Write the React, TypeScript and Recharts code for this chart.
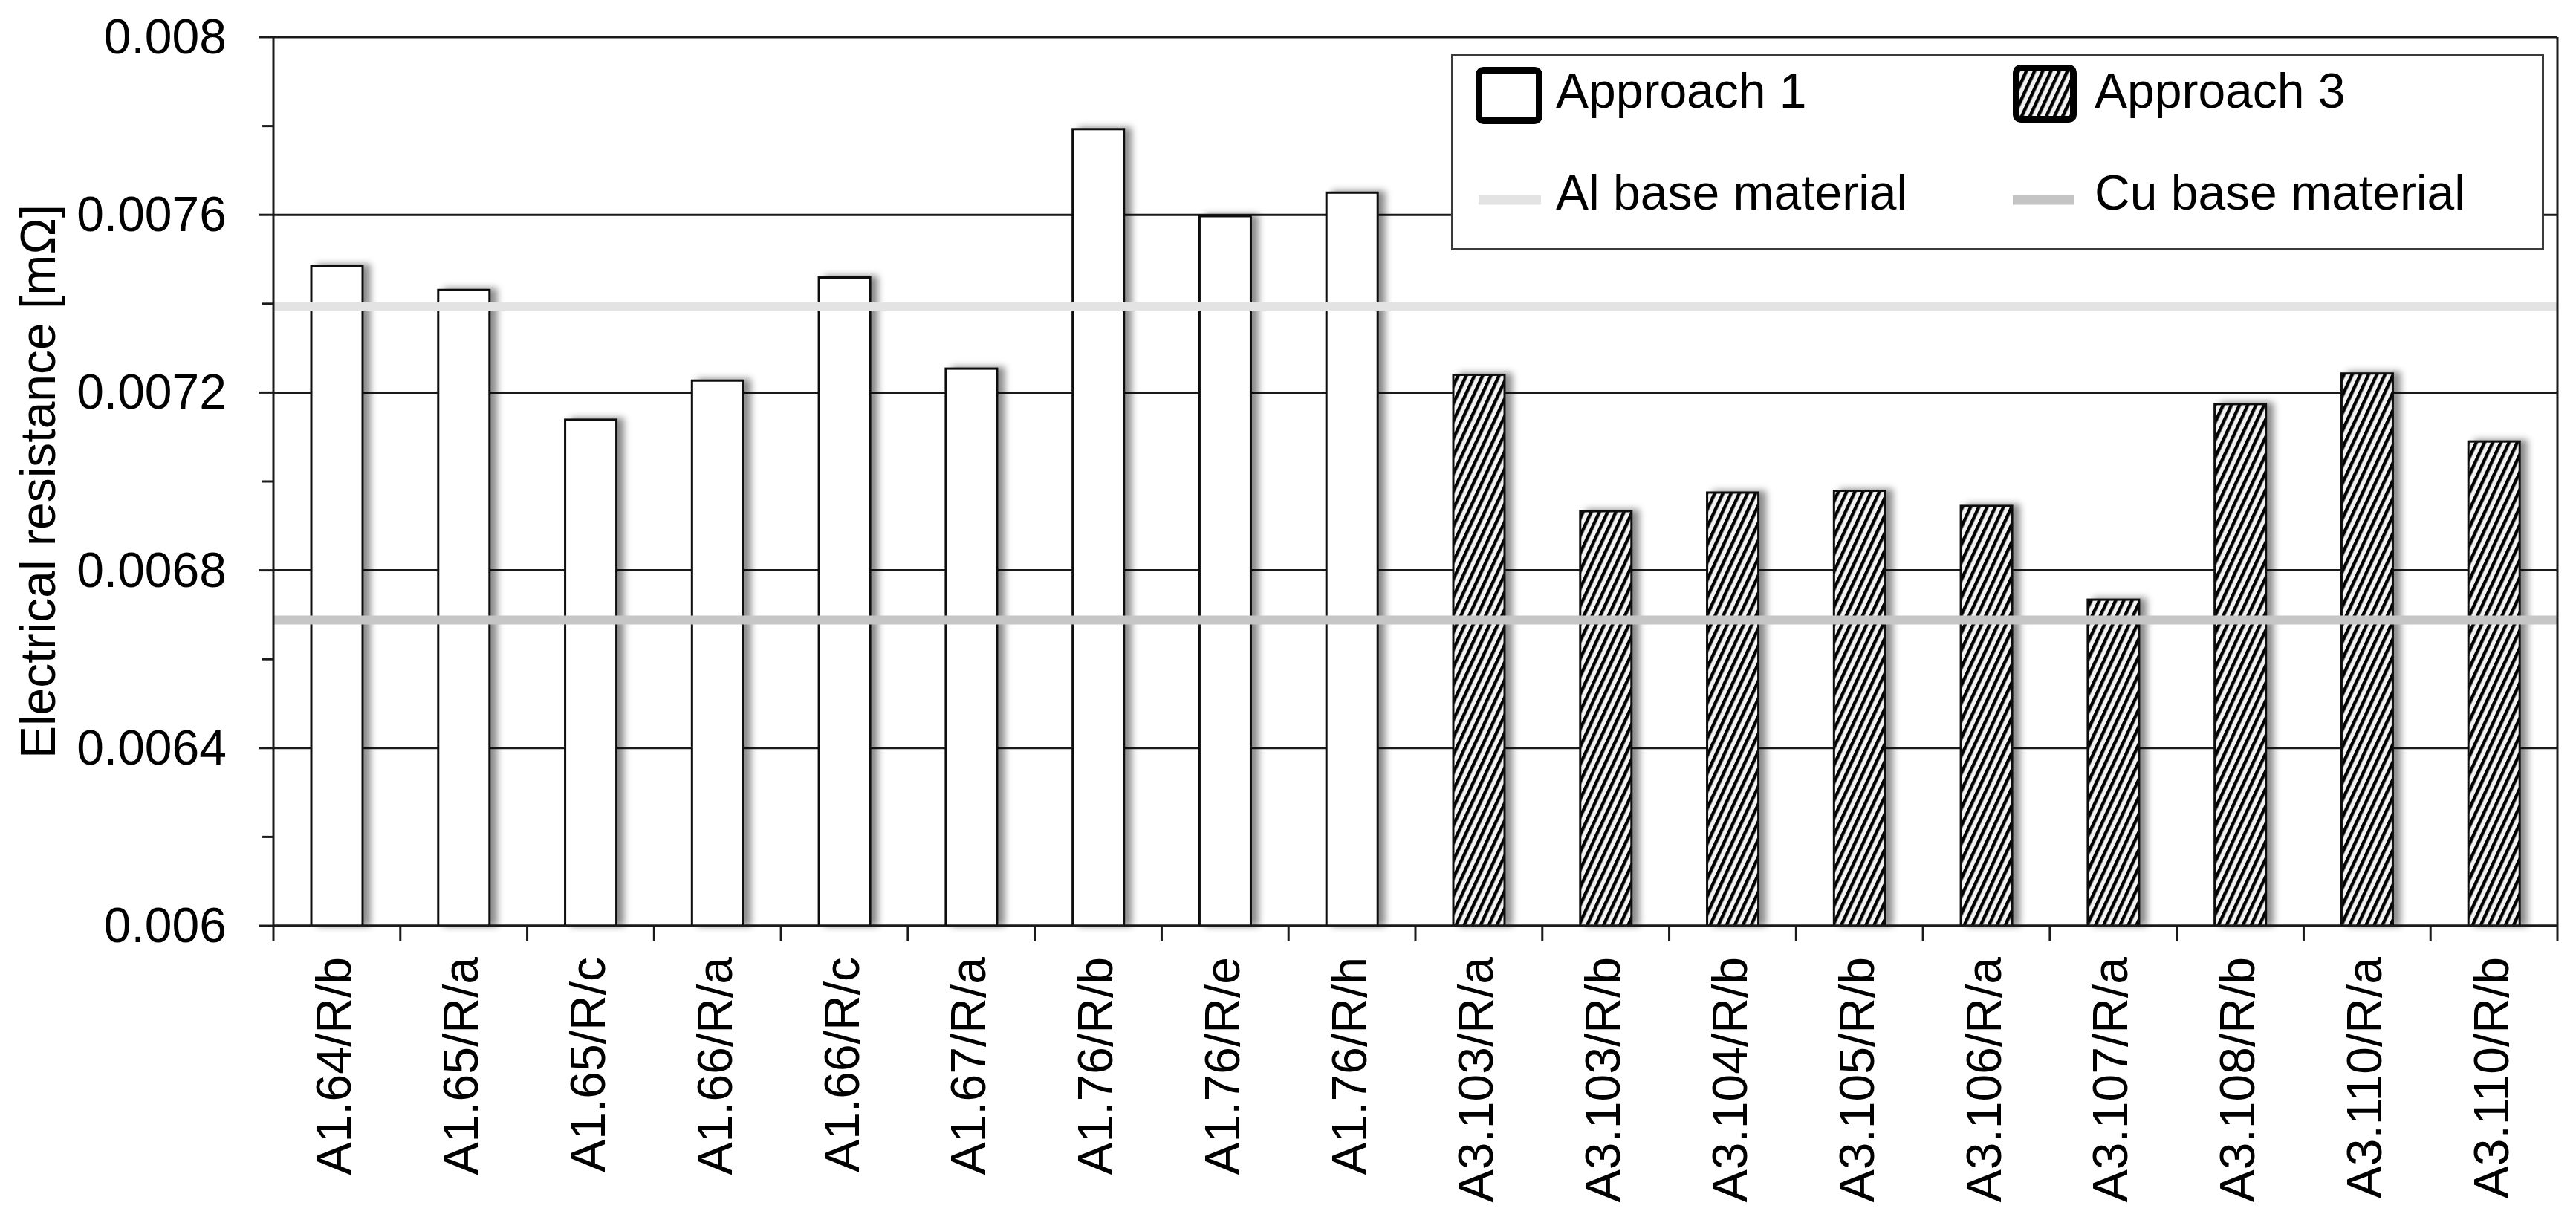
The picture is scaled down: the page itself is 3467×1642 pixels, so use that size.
import React from "react";
import {
    BarChart,
    Bar,
    XAxis,
    YAxis,
    CartesianGrid,
    ReferenceLine,
} from "recharts";

const FONT = "'Liberation Sans', Arial, sans-serif";
const INK = "#1a1a1a";

const categories = [
    "A1.64/R/b",
    "A1.65/R/a",
    "A1.65/R/c",
    "A1.66/R/a",
    "A1.66/R/c",
    "A1.67/R/a",
    "A1.76/R/b",
    "A1.76/R/e",
    "A1.76/R/h",
    "A3.103/R/a",
    "A3.103/R/b",
    "A3.104/R/b",
    "A3.105/R/b",
    "A3.106/R/a",
    "A3.107/R/a",
    "A3.108/R/b",
    "A3.110/R/a",
    "A3.110/R/b",
];

// Approach 1 (first 9 categories), Approach 3 (last 9)
const approach1 = [
    0.007485, 0.007431, 0.007139, 0.007227, 0.007459, 0.007254, 0.007793,
    0.007597, 0.00765,
];
const approach3 = [
    0.00724, 0.006933, 0.006975, 0.006979, 0.006945, 0.006734, 0.007174,
    0.007243, 0.00709,
];

const alBase = 0.007393;
const cuBase = 0.006688;

const majorTicks = [0.006, 0.0064, 0.0068, 0.0072, 0.0076, 0.008];
const allTicks = [
    0.006, 0.0062, 0.0064, 0.0066, 0.0068, 0.007, 0.0072, 0.0074, 0.0076,
    0.0078, 0.008,
];

const data = categories.map((name, i) => ({
    name,
    value: i < approach1.length ? approach1[i] : approach3[i - approach1.length],
    group: i < approach1.length ? 1 : 3,
}));

const X_TICK_MARGIN = 42;
const X_TICK_LEN = 21;

const YTick = (props: any) => {
    const { x, y, payload } = props;
    const major = majorTicks.includes(payload.value);
    const axisX = x + 63;
    return (
        <g>
            <line
                x1={axisX - (major ? 20 : 15)}
                x2={axisX}
                y1={y}
                y2={y}
                stroke={INK}
                strokeWidth={3}
            />
            {major && (
                <text
                    x={x}
                    y={y}
                    dy={22}
                    textAnchor="end"
                    fontSize={66}
                    fontFamily={FONT}
                    fill="#000"
                >
                    {String(payload.value)}
                </text>
            )}
        </g>
    );
};

const XTick = (props: any) => {
    const { x, y, payload, index, width, visibleTicksCount } = props;
    // tick marks sit on the category boundaries, Excel style
    const half = width / (visibleTicksCount || categories.length) / 2;
    const axisY = y - X_TICK_MARGIN;
    const last = index === (visibleTicksCount || categories.length) - 1;
    return (
        <g>
            <line
                x1={x - half}
                x2={x - half}
                y1={axisY}
                y2={axisY + X_TICK_LEN}
                stroke={INK}
                strokeWidth={3}
            />
            {last && (
                <line
                    x1={x + half}
                    x2={x + half}
                    y1={axisY}
                    y2={axisY + X_TICK_LEN}
                    stroke={INK}
                    strokeWidth={3}
                />
            )}
            <text
                x={x}
                y={y}
                dy={19}
                transform={`rotate(-90, ${x}, ${y})`}
                textAnchor="end"
                fontSize={66}
                fontFamily={FONT}
                fill="#000"
            >
                {payload.value}
            </text>
        </g>
    );
};

const BarShape = (props: any) => {
    const { x, y, width, height, payload } = props;
    return (
        <rect
            x={x}
            y={y}
            width={width}
            height={height}
            fill={payload.group === 1 ? "#ffffff" : "url(#hatch)"}
            stroke="#111"
            strokeWidth={3}
            filter="url(#barShadow)"
        />
    );
};

function LegendOverlay() {
    const textProps = { fontSize: 66, fontFamily: FONT, fill: "#000" };
    return (
        <svg
            width={3467}
            height={1642}
            style={{ position: "absolute", left: 0, top: 0, pointerEvents: "none" }}
        >
            <defs>
                <pattern
                    id="hatch"
                    patternUnits="userSpaceOnUse"
                    width={10}
                    height={10}
                    patternTransform="rotate(25)"
                >
                    <rect width={10} height={10} fill="#f2f2f2" />
                    <rect width={4.5} height={10} fill="#000" />
                </pattern>
                <filter id="barShadow" x="-20%" y="-5%" width="170%" height="110%">
                    <feDropShadow
                        dx={9}
                        dy={-1}
                        stdDeviation={5}
                        floodColor="#000"
                        floodOpacity={0.45}
                    />
                </filter>
            </defs>
            {/* Legend box */}
            <rect
                x={1954.5}
                y={74.5}
                width={1468}
                height={261}
                fill="#fff"
                stroke="#3a3a3a"
                strokeWidth={3}
            />
            <rect
                x={1990.5}
                y={94.5}
                width={81}
                height={68}
                rx={6}
                fill="#fff"
                stroke="#000"
                strokeWidth={9}
            />
            <text x={2094} y={145} {...textProps}>
                Approach 1
            </text>
            <rect
                x={2713.5}
                y={91.5}
                width={77}
                height={69}
                rx={6}
                fill="url(#hatch)"
                stroke="#000"
                strokeWidth={9}
            />
            <text x={2819} y={145} {...textProps}>
                Approach 3
            </text>
            <line x1={1990} x2={2074} y1={269} y2={269} stroke="#e3e3e3" strokeWidth={13} />
            <text x={2094} y={282} {...textProps}>
                Al base material
            </text>
            <line x1={2709} x2={2792} y1={269} y2={269} stroke="#c4c4c4" strokeWidth={13} />
            <text x={2819} y={282} {...textProps}>
                Cu base material
            </text>
        </svg>
    );
}

export default function App() {
    return (
        <div
            style={{
                position: "absolute",
                left: 0,
                top: 0,
                width: 3467,
                height: 1642,
                background: "#fff",
                fontFamily: FONT,
            }}
        >
            <BarChart
                width={3467}
                height={1642}
                data={data}
                margin={{ top: 50, right: 25, bottom: 0, left: 0 }}
            >
                <CartesianGrid
                    vertical={false}
                    horizontalValues={majorTicks}
                    stroke={INK}
                    strokeWidth={3}
                />
                <XAxis
                    dataKey="name"
                    height={396}
                    interval={0}
                    tickLine={false}
                    tickSize={0}
                    tickMargin={X_TICK_MARGIN}
                    axisLine={{ stroke: INK, strokeWidth: 3 }}
                    tick={<XTick />}
                />
                <YAxis
                    width={368}
                    domain={[0.006, 0.008]}
                    ticks={allTicks}
                    interval={0}
                    tickLine={false}
                    tickSize={0}
                    tickMargin={63}
                    axisLine={{ stroke: INK, strokeWidth: 3 }}
                    tick={<YTick />}
                    label={{
                        value: "Electrical resistance [mΩ]",
                        angle: -90,
                        position: "insideLeft",
                        offset: 51,
                        style: {
                            textAnchor: "middle",
                            fontSize: 66,
                            fontFamily: FONT,
                            fill: "#000",
                        },
                    }}
                />
                <Bar
                    dataKey="value"
                    barSize={69}
                    isAnimationActive={false}
                    shape={<BarShape />}
                />
                <ReferenceLine y={alBase} stroke="#e3e3e3" strokeWidth={12} />
                <ReferenceLine y={cuBase} stroke="#c6c6c6" strokeWidth={12} />
                {/* right border of the plot */}
                <ReferenceLine
                    x={categories[categories.length - 1]}
                    position="end"
                    stroke={INK}
                    strokeWidth={3}
                />
            </BarChart>
            <LegendOverlay />
        </div>
    );
}
